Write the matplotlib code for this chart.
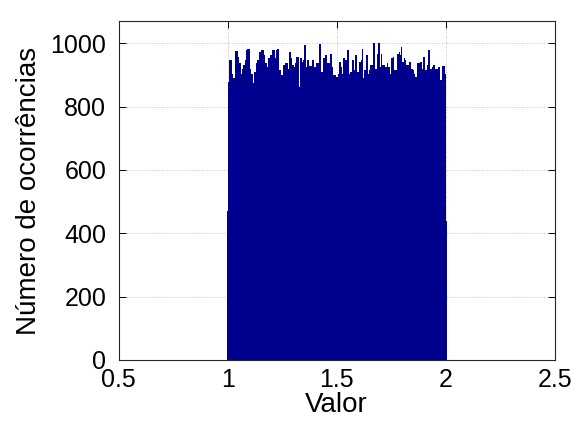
import numpy as np
import matplotlib
matplotlib.use("Agg")
import matplotlib.pyplot as plt

plt.rcParams['font.family'] = ['Liberation Sans', 'DejaVu Sans']

# Histogram counts over [1, 2] (200 equal-width bins)
counts = [
    878, 946, 946, 948, 904, 889, 889, 975, 975, 957,
    938, 938, 904, 920, 931, 931, 946, 978, 983, 983,
    920, 904, 904, 875, 910, 910, 936, 948, 948, 973,
    973, 978, 978, 962, 936, 936, 925, 952, 952, 962,
    962, 978, 978, 952, 978, 983, 983, 915, 915, 899,
    899, 931, 931, 936, 936, 920, 973, 973, 952, 931,
    931, 925, 936, 957, 957, 862, 952, 952, 941, 948,
    994, 994, 925, 946, 946, 927, 927, 946, 946, 925,
    925, 936, 936, 936, 999, 999, 910, 952, 952, 962,
    962, 936, 938, 938, 965, 965, 925, 899, 899, 894,
    894, 904, 941, 941, 925, 904, 952, 952, 946, 980,
    980, 904, 910, 910, 946, 946, 915, 962, 962, 910,
    941, 941, 946, 983, 889, 915, 915, 962, 962, 904,
    915, 931, 931, 1001, 1001, 920, 920, 967, 1001, 1001,
    925, 967, 931, 931, 925, 925, 936, 925, 925, 904,
    952, 952, 955, 915, 915, 967, 967, 973, 962, 988,
    941, 941, 952, 946, 931, 931, 941, 941, 920, 920,
    915, 904, 894, 894, 936, 936, 941, 941, 920, 957,
    957, 915, 915, 931, 978, 978, 920, 925, 931, 931,
    920, 920, 920, 925, 925, 883, 883, 927, 927, 904,
]
range_lo, range_hi = 1.0, 2.0
# half-filled end bins centred on the range limits
edge_positions = [1.0, 2.0]
edge_counts = [470, 440]

x_ticks = [0.5, 1, 1.5, 2, 2.5]
x_tick_labels = ['0.5', '1', '1.5', '2', '2.5']
y_ticks = [0, 200, 400, 600, 800, 1000]

bar_color = '#00008F'

fig = plt.figure(figsize=(5.74, 4.28), dpi=100)
ax = fig.add_axes([0.2068, 0.1589, 0.7596, 0.7920])

edges = np.linspace(range_lo, range_hi, len(counts) + 1)
ax.stairs(counts, edges, fill=True, color=bar_color, zorder=3, linewidth=0)
ax.bar(edge_positions[0], edge_counts[0], width=-0.004, align='edge',
       color=bar_color, linewidth=0, zorder=2.9)
ax.bar(edge_positions[1], edge_counts[1], width=0.005, align='edge',
       color=bar_color, linewidth=0, zorder=2.9)

ax.set_xlim(0.5, 2.5)
ax.set_ylim(0, 1070)
ax.set_xticks(x_ticks)
ax.set_xticklabels(x_tick_labels)
ax.set_yticks(y_ticks)

ax.grid(True, linestyle=(0, (1, 2)), color='#b0b0b0', linewidth=0.6, zorder=0)
ax.set_axisbelow(True)

ax.tick_params(axis='both', which='major', direction='in', length=5,
               width=0.7, labelsize=18, top=True, right=True)
ax.tick_params(axis='x', pad=6)
ax.tick_params(axis='y', pad=9)
for spine in ax.spines.values():
    spine.set_linewidth(0.8)
    spine.set_color('#262626')
    spine.set_zorder(5)

ax.set_xlabel('Valor', fontsize=20, labelpad=0)
ax.set_ylabel('Número de ocorrências', fontsize=20, labelpad=6)

fig.savefig('out.png', dpi=100)
